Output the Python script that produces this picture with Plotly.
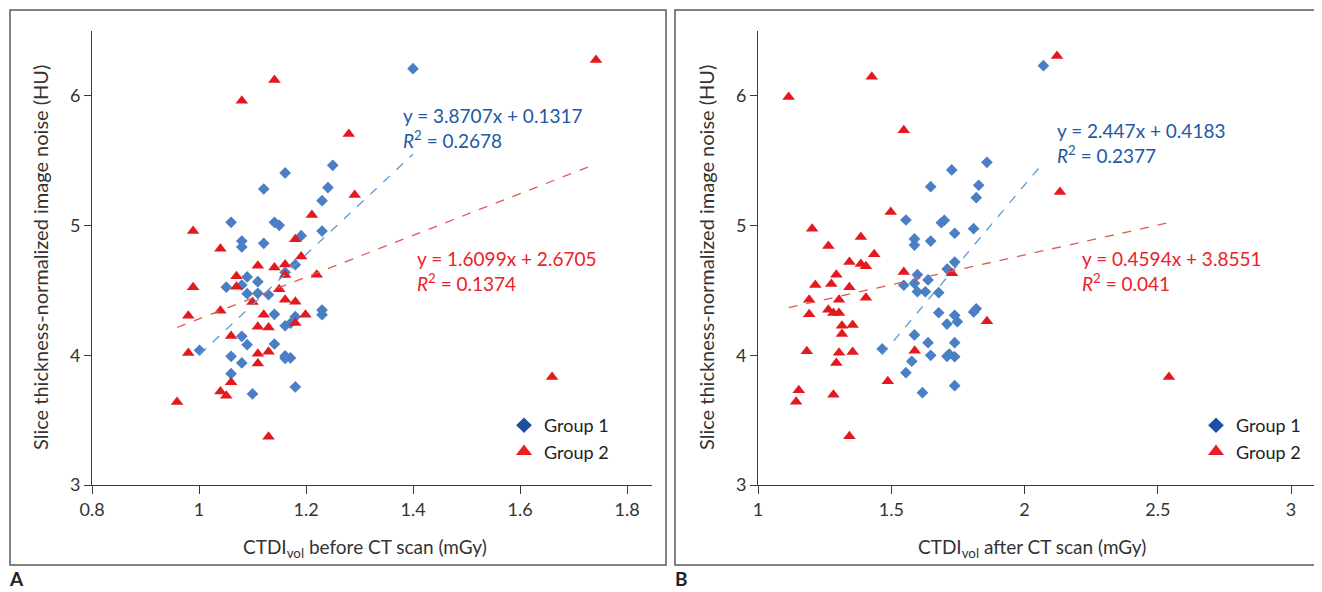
import plotly.graph_objects as go

# the page adds an 8px body margin, so the figure is drawn 8px smaller and
# every reference pixel position is shifted by OFF
OFF = 8
W, H = 1322 - OFF, 592 - OFF

# ---------------- data ----------------
# Panel A: CTDIvol before CT scan
g1_before_x = [1.400, 1.250, 1.161, 1.121, 1.241, 1.230, 1.060, 1.141, 1.150, 1.230,
               1.191, 1.080, 1.080, 1.121, 1.180, 1.161, 1.090, 1.110, 1.051, 1.080,
               1.090, 1.110, 1.130, 1.230, 1.230, 1.141, 1.180, 1.171, 1.161, 1.080,
               1.090, 1.141, 1.001, 1.060, 1.161, 1.161, 1.171, 1.080, 1.060, 1.100,
               1.180]
g1_before_y = [6.210, 5.465, 5.406, 5.282, 5.293, 5.192, 5.025, 5.025, 5.002, 4.958,
               4.922, 4.881, 4.835, 4.863, 4.699, 4.640, 4.604, 4.568, 4.525, 4.542,
               4.475, 4.478, 4.467, 4.349, 4.313, 4.316, 4.298, 4.247, 4.228, 4.146,
               4.082, 4.087, 4.039, 3.992, 3.995, 3.977, 3.980, 3.941, 3.858, 3.702,
               3.756]
g2_before_x = [1.141, 1.080, 1.280, 1.291, 1.211, 0.989, 1.040, 1.180, 1.191, 1.110,
               1.141, 1.161, 1.161, 1.220, 1.070, 1.070, 0.989, 1.150, 1.100, 1.161,
               1.180, 1.040, 0.980, 1.121, 1.199, 1.180, 1.110, 1.130, 1.060, 0.980,
               1.110, 1.130, 1.110, 1.060, 1.040, 1.051, 0.959, 1.130, 1.742, 1.660]
g2_before_y = [6.123, 5.963, 5.706, 5.236, 5.082, 4.958, 4.822, 4.895, 4.761, 4.691,
               4.676, 4.701, 4.619, 4.622, 4.609, 4.529, 4.525, 4.509, 4.411, 4.429,
               4.413, 4.344, 4.305, 4.313, 4.313, 4.249, 4.220, 4.215, 4.149, 4.018,
               4.012, 4.028, 3.936, 3.792, 3.720, 3.689, 3.640, 3.372, 6.277, 3.833]

# Panel B: CTDIvol after CT scan
g1_after_x = [2.071, 1.859, 1.727, 1.648, 1.828, 1.819, 1.555, 1.688, 1.699, 1.809,
              1.738, 1.587, 1.648, 1.587, 1.738, 1.710, 1.598, 1.587, 1.638, 1.547,
              1.598, 1.628, 1.678, 1.678, 1.738, 1.709, 1.748, 1.809, 1.819, 1.587,
              1.638, 1.738, 1.466, 1.648, 1.709, 1.718, 1.738, 1.577, 1.555, 1.617,
              1.738]
g1_after_y = [6.233, 5.488, 5.429, 5.300, 5.311, 5.215, 5.043, 5.022, 5.041, 4.976,
              4.941, 4.897, 4.881, 4.850, 4.719, 4.665, 4.622, 4.555, 4.581, 4.540,
              4.490, 4.490, 4.483, 4.328, 4.308, 4.241, 4.259, 4.334, 4.359, 4.157,
              4.097, 4.097, 4.049, 4.000, 3.992, 4.010, 3.989, 3.954, 3.866, 3.712,
              3.766]
g2_after_x = [1.427, 1.115, 1.547, 1.498, 1.203, 1.386, 1.264, 1.436, 1.343, 1.386,
              1.405, 1.547, 1.728, 1.294, 1.215, 1.275, 1.343, 1.405, 1.192, 1.304,
              1.264, 1.283, 1.304, 1.192, 1.315, 1.355, 1.315, 1.859, 1.183, 1.304,
              1.355, 1.294, 1.588, 1.487, 1.153, 1.283, 1.143, 1.343, 2.122, 2.133,
              2.542]
g2_after_y = [6.148, 5.991, 5.735, 5.105, 4.976, 4.912, 4.843, 4.779, 4.719, 4.704,
              4.686, 4.642, 4.632, 4.622, 4.542, 4.550, 4.524, 4.444, 4.429, 4.429,
              4.352, 4.326, 4.326, 4.316, 4.228, 4.234, 4.164, 4.262, 4.031, 4.020,
              4.025, 3.941, 4.036, 3.800, 3.730, 3.696, 3.642, 3.375, 6.308, 5.259,
              3.833]

# linear fits (slope, intercept) and R^2 as reported
fit_before = {"g1": (3.8707, 0.1317, "0.2678"), "g2": (1.6099, 2.6705, "0.1374")}
fit_after = {"g1": (2.447, 0.4183, "0.2377"), "g2": (0.4594, 3.8551, "0.041")}

group_names = ["Group 1", "Group 2"]
xticks_before = [0.8, 1.0, 1.2, 1.4, 1.6, 1.8]
xticklabels_before = ["0.8", "1", "1.2", "1.4", "1.6", "1.8"]
xticks_after = [1.0, 1.5, 2.0, 2.5, 3.0]
xticklabels_after = ["1", "1.5", "2", "2.5", "3"]
yticks = [3, 4, 5, 6]

# ---------------- styles ----------------
FONT = "Lato"
BLUE_PT = "#4a7fc6"
RED_PT = "#e3191f"
BLUE_LEG = "#1c4f9f"
RED_LEG = "#ea1f26"
BLUE_TXT = "#2358a6"
RED_TXT = "#ec2028"
BLUE_LINE = "#5b9bd5"
RED_LINE = "#e05a50"
AX = "#3a3a3a"


def X(p):
    return (p - OFF) / W


def Y(p):
    return 1 - (p - OFF) / H


fig = go.Figure()


def add_panel(xa, ya, g1x, g1y, g2x, g2y, fit, legend):
    fig.add_trace(go.Scatter(x=g1x, y=g1y, mode="markers", xaxis=xa, yaxis=ya,
                             marker=dict(symbol="diamond", size=9, color=BLUE_PT),
                             showlegend=False, hoverinfo="x+y"))
    fig.add_trace(go.Scatter(x=g2x, y=g2y, mode="markers", xaxis=xa, yaxis=ya,
                             marker=dict(symbol="triangle-up", size=11, color=RED_PT),
                             showlegend=False, hoverinfo="x+y"))
    for key, xs, col in (("g1", g1x, BLUE_LINE), ("g2", g2x, RED_LINE)):
        m, b, _ = fit[key]
        x0, x1 = min(xs), max(xs)
        fig.add_trace(go.Scatter(x=[x0, x1], y=[m * x0 + b, m * x1 + b], mode="lines",
                                 xaxis=xa, yaxis=ya, showlegend=False, hoverinfo="skip",
                                 line=dict(color=col, width=1.3, dash="dash")))
    # legend entries
    fig.add_trace(go.Scatter(x=[None], y=[None], mode="markers", xaxis=xa, yaxis=ya,
                             name=group_names[0], legend=legend,
                             marker=dict(symbol="diamond", size=12, color=BLUE_LEG)))
    fig.add_trace(go.Scatter(x=[None], y=[None], mode="markers", xaxis=xa, yaxis=ya,
                             name=group_names[1], legend=legend,
                             marker=dict(symbol="triangle-up", size=14, color=RED_LEG)))


add_panel("x", "y", g1_before_x, g1_before_y, g2_before_x, g2_before_y, fit_before, "legend")
add_panel("x2", "y2", g1_after_x, g1_after_y, g2_after_x, g2_after_y, fit_after, "legend2")


def axis(rng, dom, tv, tt, anchor, ticklen):
    return dict(range=rng, domain=dom, anchor=anchor, tickvals=tv, ticktext=tt,
                showline=True, linecolor=AX, linewidth=1, ticks="outside", ticklen=ticklen,
                tickcolor=AX, tickwidth=1, showgrid=False, zeroline=False, automargin=False,
                tickfont=dict(family=FONT, size=18, color="#333333"))


ydom = [Y(485), Y(31)]
yrng = [3, 3 + 454 / 129.7]

legend_style = dict(xanchor="left", yanchor="top", bgcolor="rgba(0,0,0,0)",
                    font=dict(family=FONT, size=18, color="#222"),
                    itemwidth=30, tracegroupgap=0)

layout = dict(
    width=W, height=H, margin=dict(l=0, r=0, t=0, b=0, autoexpand=False),
    paper_bgcolor="white", plot_bgcolor="white",
    font=dict(family=FONT, size=17, color="#333333"),
    xaxis=axis([0.8, 0.8 + 560 / 535], [X(92), X(652)], xticks_before, xticklabels_before, "y", 8),
    yaxis=axis(yrng, ydom, yticks, [str(v) for v in yticks], "x", 7),
    xaxis2=axis([1.0, 1.0 + 558 / 266.5], [X(758), X(1316)], xticks_after, xticklabels_after, "y2", 8),
    yaxis2=axis(yrng, ydom, yticks, [str(v) for v in yticks], "x2", 7),
    legend=dict(x=X(504), y=Y(407), **legend_style),
    legend2=dict(x=X(1196), y=Y(407), **legend_style),
    hovermode="closest",
)
fig.update_layout(**layout)

# panel frames
for x0, x1 in ((10, 666), (675, 1318)):
    fig.add_shape(type="rect", xref="paper", yref="paper",
                  x0=X(x0), x1=X(x1), y0=Y(565), y1=Y(10),
                  line=dict(color="#5a5a5a", width=1.5), fillcolor="rgba(0,0,0,0)")


def ann(text, x, y, size=17, color="#333333", xanchor="center", angle=0):
    fig.add_annotation(text=text, x=X(x), y=Y(y), xref="paper", yref="paper",
                       showarrow=False, xanchor=xanchor, yanchor="middle", textangle=angle,
                       font=dict(family=FONT, size=size, color=color))


ytitle = "Slice thickness-normalized image noise (HU)"
ann(ytitle, 40, 258, size=20, angle=-90)
ann(ytitle, 706, 258, size=20, angle=-90)
ann("CTDI<sub>vol</sub> before CT scan (mGy)", 365, 548, size=19)
ann("CTDI<sub>vol</sub> after CT scan (mGy)", 1032, 548, size=19)
ann("<b>A</b>", 16, 578, size=19, color="#222")
ann("<b>B</b>", 681, 578, size=19, color="#222")


def eq_text(m, b):
    return f"y = {m}x + {b}"


def r2_text(r):
    return f"<i>R</i><sup>2</sup> = {r}"


m, b, r = fit_before["g1"]
ann(eq_text(m, b), 401, 115, size=19, color=BLUE_TXT, xanchor="left")
ann(r2_text(r), 401, 139, size=19, color=BLUE_TXT, xanchor="left")
m, b, r = fit_before["g2"]
ann(eq_text(m, b), 415, 258, size=19, color=RED_TXT, xanchor="left")
ann(r2_text(r), 415, 282, size=19, color=RED_TXT, xanchor="left")
m, b, r = fit_after["g1"]
ann(eq_text(m, b), 1055, 130, size=19, color=BLUE_TXT, xanchor="left")
ann(r2_text(r), 1055, 154, size=19, color=BLUE_TXT, xanchor="left")
m, b, r = fit_after["g2"]
ann(eq_text(m, b), 1080, 258, size=19, color=RED_TXT, xanchor="left")
ann(r2_text(r), 1080, 282, size=19, color=RED_TXT, xanchor="left")

fig.write_html("out.html")
